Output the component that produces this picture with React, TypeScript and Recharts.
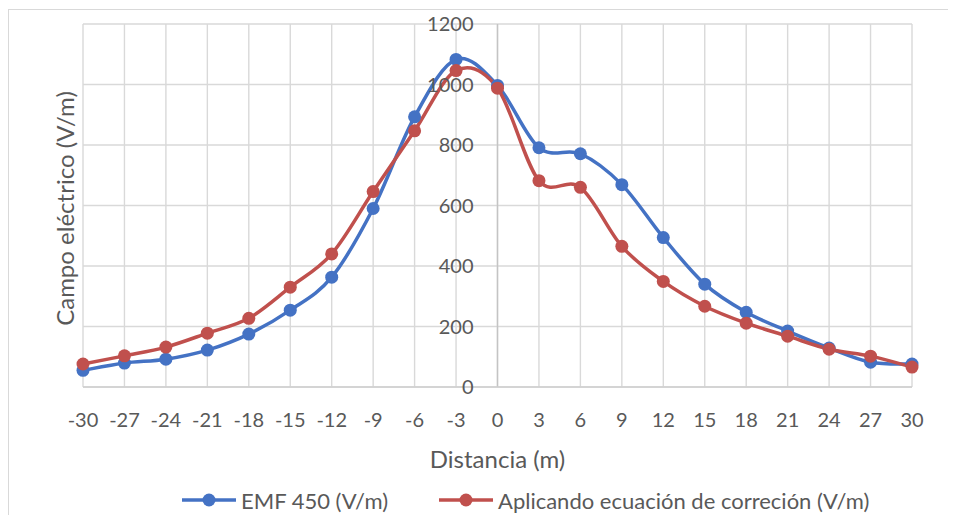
import React from 'react';
import {
  LineChart,
  Line,
  XAxis,
  YAxis,
  CartesianGrid,
  ReferenceLine,
  Legend,
  Label,
} from 'recharts';

const distance = [-30, -27, -24, -21, -18, -15, -12, -9, -6, -3, 0, 3, 6, 9, 12, 15, 18, 21, 24, 27, 30];
const emf450 = [55, 79, 92, 122, 175, 254, 363, 590, 893, 1083, 997, 791, 771, 669, 494, 340, 247, 185, 129, 82, 76];
const corrected = [76, 103, 132, 178, 227, 330, 440, 646, 847, 1046, 988, 682, 660, 465, 349, 267, 211, 168, 125, 102, 66];
const yTicks = [0, 200, 400, 600, 800, 1000, 1200];
const seriesNames = ['EMF 450 (V/m)', 'Aplicando ecuación de correción (V/m)'];

const data = distance.map((d, i) => ({ d, emf: emf450[i], corr: corrected[i] }));

const W = 948;
const H = 507;
const MARGIN = { top: 16, right: 44, bottom: 0, left: 0 };
const Y_AXIS_W = 75;
const PLOT_W = W - MARGIN.left - MARGIN.right - Y_AXIS_W;
// the value axis crosses at distance 0, which is the middle of the symmetric domain
const ZERO_X = MARGIN.left + Y_AXIS_W + PLOT_W / 2;

const FONT = 'Lato, "Noto Sans", sans-serif';
const TEXT = '#595959';
const BLUE = '#4472C4';
const RED = '#C0504D';

// Excel-style smoothing: Catmull-Rom segments written as cubic Béziers
const smooth = (context: any) => {
  let pts: number[][] = [];
  return {
    areaStart() {},
    areaEnd() {},
    lineStart() {
      pts = [];
    },
    point(x: number, y: number) {
      pts.push([+x, +y]);
    },
    lineEnd() {
      if (!pts.length) return;
      context.moveTo(pts[0][0], pts[0][1]);
      for (let i = 0; i < pts.length - 1; i++) {
        const p0 = pts[i - 1] || pts[i];
        const p1 = pts[i];
        const p2 = pts[i + 1];
        const p3 = pts[i + 2] || p2;
        context.bezierCurveTo(
          p1[0] + (p2[0] - p0[0]) / 6,
          p1[1] + (p2[1] - p0[1]) / 6,
          p2[0] - (p3[0] - p1[0]) / 6,
          p2[1] - (p3[1] - p1[1]) / 6,
          p2[0],
          p2[1]
        );
      }
    },
  };
};

const CenterTick = (props: any) => {
  const { y, payload } = props;
  return (
    <text x={ZERO_X - 24} y={y} dy='0.35em' textAnchor='end' fill={TEXT} fontSize={20} fontFamily={FONT}>
      {payload.value}
    </text>
  );
};

const YTitle = (props: any) => {
  const { viewBox } = props;
  const cx = viewBox.x + 56;
  const cy = viewBox.y + viewBox.height / 2 + 3;
  return (
    <text
      x={cx}
      y={cy}
      transform={`rotate(-90, ${cx}, ${cy})`}
      textAnchor='middle'
      dominantBaseline='central'
      fill={TEXT}
      fontSize={24}
      fontFamily={FONT}
    >
      Campo eléctrico (V/m)
    </text>
  );
};

const XTitle = (props: any) => {
  const { viewBox } = props;
  return (
    <text
      x={viewBox.x + viewBox.width / 2}
      y={viewBox.y + 71}
      textAnchor='middle'
      dominantBaseline='central'
      fill={TEXT}
      fontSize={24}
      fontFamily={FONT}
    >
      Distancia (m)
    </text>
  );
};

const LegendContent = (props: any) => {
  const { payload = [] } = props;
  const items = [...payload].sort((a: any, b: any) => seriesNames.indexOf(a.value) - seriesNames.indexOf(b.value));
  return (
    <div style={{ display: 'flex', alignItems: 'center', height: 30, paddingLeft: 174 }}>
      {items.map((p: any) => (
        <div key={p.value} style={{ display: 'flex', alignItems: 'center', marginRight: 51 }}>
          <svg width={54} height={16}>
            <line x1={0} x2={54} y1={8} y2={8} stroke={p.color} strokeWidth={3.5} />
            <circle cx={27} cy={8} r={6.5} fill={p.color} />
          </svg>
          <span style={{ marginLeft: 5, color: TEXT, fontSize: 22, fontFamily: FONT }}>{p.value}</span>
        </div>
      ))}
    </div>
  );
};

export default function App() {
  return (
    <div style={{ position: 'relative', width: W, height: H, overflow: 'hidden' }}>
      <div
        style={{
          position: 'absolute',
          left: 0,
          top: 1,
          width: W + 20,
          height: H + 20,
          border: '1px solid #d9d9d9',
          boxSizing: 'border-box',
        }}
      />
      <LineChart width={W} height={H} data={data} margin={MARGIN} style={{ position: 'absolute', left: 0, top: 0 }}>
        <CartesianGrid stroke='#d9d9d9' strokeWidth={1.4} />
        <XAxis
          dataKey='d'
          type='number'
          domain={[-30, 30]}
          ticks={distance}
          interval={0}
          height={98}
          tickSize={0}
          tickMargin={26}
          axisLine={{ stroke: '#cfcfcf', strokeWidth: 1.4 }}
          tickLine={false}
          tick={{ fill: TEXT, fontSize: 20, fontFamily: FONT }}
        >
          <Label content={<XTitle />} />
        </XAxis>
        <YAxis
          domain={[0, 1200]}
          ticks={yTicks}
          width={Y_AXIS_W}
          axisLine={false}
          tickLine={false}
          tick={CenterTick}
        >
          <Label content={<YTitle />} />
        </YAxis>
        <ReferenceLine x={0} stroke='#c4c4c4' strokeWidth={1.4} />
        <Legend verticalAlign='bottom' content={<LegendContent />} wrapperStyle={{ left: 0, width: W }} />
        <Line
          name={seriesNames[0]}
          dataKey='emf'
          type={smooth as any}
          stroke={BLUE}
          strokeWidth={3.5}
          dot={{ r: 6.5, fill: BLUE, stroke: BLUE, strokeWidth: 0 }}
          isAnimationActive={false}
        />
        <Line
          name={seriesNames[1]}
          dataKey='corr'
          type={smooth as any}
          stroke={RED}
          strokeWidth={3.5}
          dot={{ r: 6.5, fill: RED, stroke: RED, strokeWidth: 0 }}
          isAnimationActive={false}
        />
      </LineChart>
    </div>
  );
}
